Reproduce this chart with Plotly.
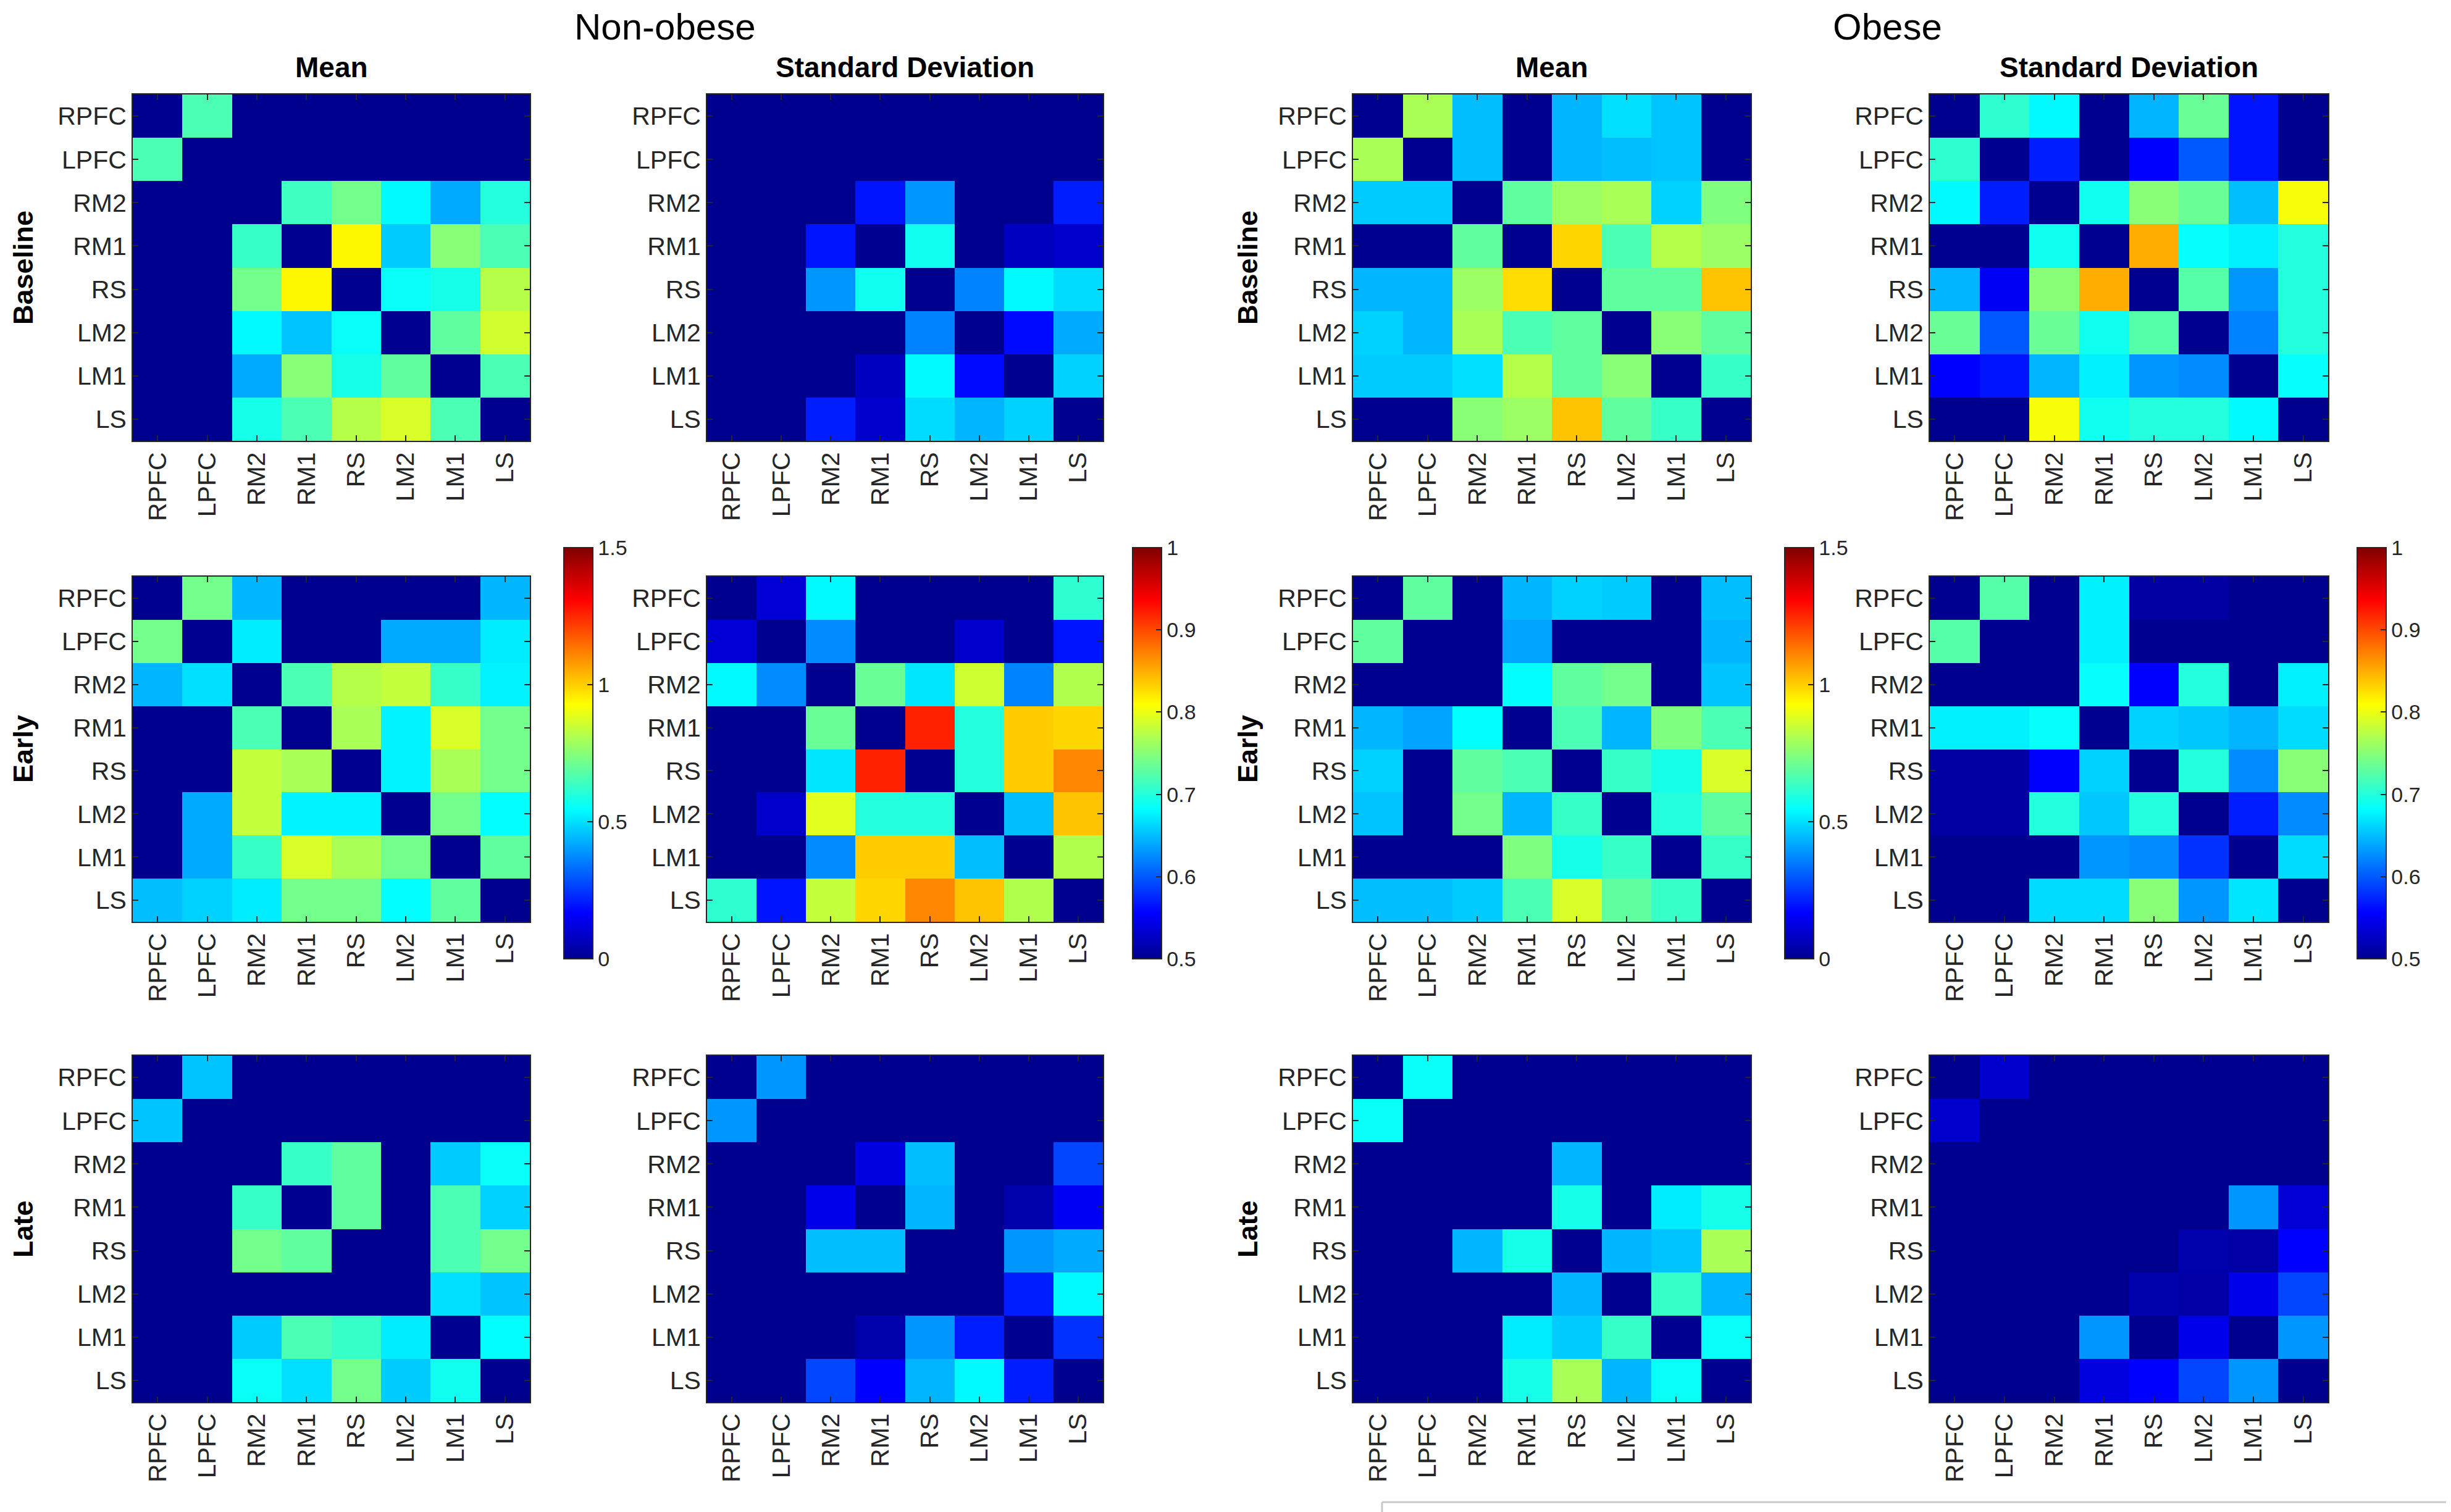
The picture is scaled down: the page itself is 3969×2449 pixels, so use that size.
import plotly.graph_objects as go

# region labels, same order on both axes
labels = ['RPFC', 'LPFC', 'RM2', 'RM1', 'RS', 'LM2', 'LM1', 'LS']

# ---- Non-obese ----
nonobese_base_mean = [
    [0, 0.66, 0, 0, 0, 0, 0, 0],
    [0.66, 0, 0, 0, 0, 0, 0, 0],
    [0, 0, 0, 0.64, 0.72, 0.54, 0.42, 0.60],
    [0, 0, 0.63, 0, 0.94, 0.47, 0.75, 0.66],
    [0, 0, 0.72, 0.94, 0, 0.56, 0.58, 0.82],
    [0, 0, 0.54, 0.46, 0.56, 0, 0.69, 0.86],
    [0, 0, 0.42, 0.75, 0.58, 0.69, 0, 0.66],
    [0, 0, 0.58, 0.66, 0.82, 0.87, 0.66, 0],
]
nonobese_base_sd = [
    [0, 0, 0, 0, 0, 0, 0, 0],
    [0, 0, 0, 0, 0, 0, 0, 0],
    [0, 0, 0, 0.565, 0.63, 0, 0, 0.57],
    [0, 0, 0.565, 0, 0.69, 0, 0.525, 0.53],
    [0, 0, 0.63, 0.69, 0, 0.62, 0.68, 0.665],
    [0, 0, 0, 0, 0.62, 0, 0.56, 0.64],
    [0, 0, 0, 0.525, 0.68, 0.56, 0, 0.66],
    [0, 0, 0.57, 0.53, 0.665, 0.645, 0.66, 0],
]
nonobese_early_mean = [
    [0, 0.72, 0.44, 0, 0, 0, 0, 0.44],
    [0.72, 0, 0.52, 0, 0, 0.42, 0.42, 0.52],
    [0.44, 0.50, 0, 0.66, 0.82, 0.84, 0.63, 0.53],
    [0, 0, 0.66, 0, 0.80, 0.53, 0.87, 0.72],
    [0, 0, 0.84, 0.80, 0, 0.53, 0.80, 0.72],
    [0, 0.42, 0.84, 0.53, 0.53, 0, 0.72, 0.55],
    [0, 0.42, 0.63, 0.87, 0.80, 0.72, 0, 0.69],
    [0.45, 0.48, 0.52, 0.72, 0.72, 0.55, 0.69, 0],
]
nonobese_early_sd = [
    [0, 0.535, 0.68, 0, 0, 0, 0, 0.705],
    [0.535, 0, 0.625, 0, 0, 0.53, 0, 0.565],
    [0.68, 0.625, 0, 0.735, 0.67, 0.785, 0.62, 0.77],
    [0, 0, 0.735, 0, 0.92, 0.70, 0.835, 0.83],
    [0, 0, 0.67, 0.92, 0, 0.70, 0.835, 0.87],
    [0, 0.53, 0.795, 0.70, 0.70, 0, 0.65, 0.84],
    [0, 0, 0.625, 0.835, 0.835, 0.65, 0, 0.77],
    [0.705, 0.565, 0.78, 0.83, 0.87, 0.84, 0.77, 0],
]
nonobese_late_mean = [
    [0, 0.46, 0, 0, 0, 0, 0, 0],
    [0.46, 0, 0, 0, 0, 0, 0, 0],
    [0, 0, 0, 0.63, 0.69, 0, 0.47, 0.56],
    [0, 0, 0.63, 0, 0.69, 0, 0.66, 0.48],
    [0, 0, 0.72, 0.69, 0, 0, 0.66, 0.72],
    [0, 0, 0, 0, 0, 0, 0.50, 0.46],
    [0, 0, 0.47, 0.66, 0.63, 0.52, 0, 0.55],
    [0, 0, 0.56, 0.50, 0.72, 0.47, 0.57, 0],
]
nonobese_late_sd = [
    [0, 0.63, 0, 0, 0, 0, 0, 0],
    [0.63, 0, 0, 0, 0, 0, 0, 0],
    [0, 0, 0, 0.54, 0.65, 0, 0, 0.59],
    [0, 0, 0.545, 0, 0.645, 0, 0.515, 0.55],
    [0, 0, 0.65, 0.65, 0, 0, 0.63, 0.64],
    [0, 0, 0, 0, 0, 0, 0.57, 0.68],
    [0, 0, 0, 0.515, 0.63, 0.57, 0, 0.58],
    [0, 0, 0.59, 0.555, 0.645, 0.68, 0.57, 0],
]

# ---- Obese ----
obese_base_mean = [
    [0, 0.80, 0.45, 0, 0.44, 0.50, 0.46, 0],
    [0.80, 0, 0.45, 0, 0.44, 0.45, 0.46, 0],
    [0.47, 0.47, 0, 0.69, 0.78, 0.80, 0.48, 0.74],
    [0, 0, 0.69, 0, 0.99, 0.66, 0.82, 0.78],
    [0.44, 0.44, 0.78, 0.98, 0, 0.69, 0.69, 1.02],
    [0.48, 0.44, 0.80, 0.66, 0.69, 0, 0.75, 0.69],
    [0.47, 0.47, 0.50, 0.82, 0.69, 0.75, 0, 0.63],
    [0, 0, 0.75, 0.78, 1.02, 0.69, 0.63, 0],
]
obese_base_sd = [
    [0, 0.705, 0.68, 0, 0.645, 0.735, 0.565, 0],
    [0.705, 0, 0.57, 0, 0.555, 0.60, 0.565, 0],
    [0.68, 0.57, 0, 0.69, 0.75, 0.735, 0.65, 0.805],
    [0, 0, 0.69, 0, 0.85, 0.685, 0.675, 0.70],
    [0.645, 0.55, 0.75, 0.85, 0, 0.725, 0.63, 0.70],
    [0.735, 0.60, 0.735, 0.69, 0.725, 0, 0.62, 0.70],
    [0.555, 0.565, 0.645, 0.675, 0.63, 0.625, 0, 0.685],
    [0, 0, 0.805, 0.69, 0.70, 0.70, 0.68, 0],
]
obese_early_mean = [
    [0, 0.69, 0, 0.44, 0.48, 0.47, 0, 0.45],
    [0.69, 0, 0, 0.41, 0, 0, 0, 0.44],
    [0, 0, 0, 0.55, 0.69, 0.72, 0, 0.46],
    [0.44, 0.41, 0.55, 0, 0.66, 0.44, 0.74, 0.66],
    [0.48, 0, 0.69, 0.66, 0, 0.63, 0.58, 0.87],
    [0.46, 0, 0.72, 0.44, 0.63, 0, 0.60, 0.69],
    [0, 0, 0, 0.74, 0.58, 0.63, 0, 0.63],
    [0.45, 0.45, 0.47, 0.66, 0.87, 0.69, 0.63, 0],
]
obese_early_sd = [
    [0, 0.725, 0, 0.675, 0.51, 0.51, 0, 0],
    [0.725, 0, 0, 0.675, 0, 0, 0, 0],
    [0, 0, 0, 0.685, 0.555, 0.70, 0, 0.675],
    [0.675, 0.675, 0.685, 0, 0.66, 0.655, 0.645, 0.665],
    [0.51, 0.51, 0.555, 0.66, 0, 0.70, 0.625, 0.75],
    [0.51, 0.51, 0.70, 0.655, 0.70, 0, 0.57, 0.625],
    [0, 0, 0, 0.63, 0.625, 0.58, 0, 0.665],
    [0, 0, 0.665, 0.665, 0.75, 0.63, 0.67, 0],
]
obese_late_mean = [
    [0, 0.56, 0, 0, 0, 0, 0, 0],
    [0.56, 0, 0, 0, 0, 0, 0, 0],
    [0, 0, 0, 0, 0.44, 0, 0, 0],
    [0, 0, 0, 0, 0.58, 0, 0.52, 0.58],
    [0, 0, 0.44, 0.58, 0, 0.44, 0.46, 0.80],
    [0, 0, 0, 0, 0.44, 0, 0.63, 0.44],
    [0, 0, 0, 0.52, 0.47, 0.63, 0, 0.56],
    [0, 0, 0, 0.58, 0.80, 0.44, 0.56, 0],
]
obese_late_sd = [
    [0, 0.53, 0, 0, 0, 0, 0, 0],
    [0.53, 0, 0, 0, 0, 0, 0, 0],
    [0, 0, 0, 0, 0, 0, 0, 0],
    [0, 0, 0, 0, 0, 0, 0.63, 0.535],
    [0, 0, 0, 0, 0, 0.515, 0.512, 0.555],
    [0, 0, 0, 0, 0.515, 0.512, 0.545, 0.59],
    [0, 0, 0, 0.63, 0, 0.545, 0, 0.63],
    [0, 0, 0, 0.54, 0.555, 0.59, 0.63, 0],
]

row_names = ['Baseline', 'Early', 'Late']
col_titles = ['Mean', 'Standard Deviation', 'Mean', 'Standard Deviation']
mean_ticks = [0, 0.5, 1, 1.5]
sd_ticks = [0.5, 0.6, 0.7, 0.8, 0.9, 1]

grid = [
    [nonobese_base_mean, nonobese_base_sd, obese_base_mean, obese_base_sd],
    [nonobese_early_mean, nonobese_early_sd, obese_early_mean, obese_early_sd],
    [nonobese_late_mean, nonobese_late_sd, obese_late_mean, obese_late_sd],
]

W, H = 3969, 2449
FONT = 'Liberation Sans, Arial, Helvetica, sans-serif'
INK = '#262626'

# matlab style jet
jet = [[0, 'rgb(0,0,143)'], [0.111, 'rgb(0,0,255)'], [0.365, 'rgb(0,255,255)'],
       [0.619, 'rgb(255,255,0)'], [0.873, 'rgb(255,0,0)'], [1, 'rgb(128,0,0)']]

# panel boxes in pixels (left, right) / (top, bottom)
col_px = [(207, 850), (1137, 1778), (2183, 2827), (3117, 3762)]
row_px = [(145, 706), (926, 1485), (1702, 2263)]
cbar_left = [905, 1826, 2882, 3809]
rowlab_left = [2, 1985]

def fx(px):
    return px / W

def fy(px):
    return 1 - px / H

fig = go.Figure()
layout = dict(width=W, height=H, margin=dict(l=0, r=0, t=0, b=0),
              paper_bgcolor='white', plot_bgcolor='white',
              font=dict(family=FONT, color=INK), showlegend=False)

for r in range(3):
    for c in range(4):
        k = r * 4 + c + 1
        sfx = '' if k == 1 else str(k)
        fig.add_trace(go.Heatmap(
            z=grid[r][c], x=labels, y=labels,
            coloraxis='coloraxis' + ('' if c == 0 else str(c + 1)),
            xaxis='x' + sfx, yaxis='y' + sfx,
        ))
        axstyle = dict(showline=True, linecolor=INK, linewidth=2, mirror='ticks',
                       ticks='inside', ticklen=9, tickwidth=2, tickcolor=INK,
                       showgrid=False, zeroline=False, fixedrange=True,
                       tickfont=dict(size=41, family=FONT, color=INK))
        layout['xaxis' + sfx] = dict(axstyle, domain=[fx(col_px[c][0]), fx(col_px[c][1])],
                                     anchor='y' + sfx, tickangle=-90)
        layout['yaxis' + sfx] = dict(axstyle, domain=[fy(row_px[r][1]), fy(row_px[r][0])],
                                     anchor='x' + sfx, autorange='reversed')

# one colorbar per column, drawn next to the middle row
for c in range(4):
    ticks = mean_ticks if c % 2 == 0 else sd_ticks
    name = 'coloraxis' + ('' if c == 0 else str(c + 1))
    layout[name] = dict(
        colorscale=jet, cmin=ticks[0], cmax=ticks[-1],
        colorbar=dict(x=fx(cbar_left[c]), xanchor='left', xpad=0, ypad=0,
                      y=fy(1212), yanchor='middle', len=666, lenmode='pixels',
                      thickness=47, thicknessmode='pixels',
                      outlinewidth=2, outlinecolor=INK,
                      ticks='inside', ticklen=10, tickwidth=2, tickcolor=INK,
                      tickvals=ticks, ticktext=[f'{t:g}' for t in ticks],
                      tickfont=dict(size=34, family=FONT, color=INK)),
    )

ann = []
ann.append(dict(text='Non-obese', x=fx(1069), y=1, yanchor='top', font=dict(size=60)))
ann.append(dict(text='Obese', x=fx(3048), y=1, yanchor='top', font=dict(size=60)))
for c in range(4):
    ann.append(dict(text='<b>' + col_titles[c] + '</b>', x=fx(sum(col_px[c]) / 2),
                    y=fy(101), font=dict(size=46)))
for r in range(3):
    yc = fy(sum(row_px[r]) / 2)
    for xl in rowlab_left:
        ann.append(dict(text='<b>' + row_names[r] + '</b>', x=fx(xl), y=yc,
                        xanchor='left', textangle=-90, font=dict(size=45)))
for a in ann:
    a.setdefault('yanchor', 'middle')
    a.setdefault('xanchor', 'center')
    a.update(xref='paper', yref='paper', showarrow=False)
    a['font'].update(family=FONT, color='black')
layout['annotations'] = ann

# thin grey frame corner at the bottom right of the page
layout['shapes'] = [
    dict(type='line', xref='paper', yref='paper', x0=fx(2230), x1=1,
         y0=fy(2425), y1=fy(2425), line=dict(color='#c8c8c8', width=3)),
    dict(type='line', xref='paper', yref='paper', x0=fx(2230), x1=fx(2230),
         y0=fy(2425), y1=0, line=dict(color='#c8c8c8', width=3)),
]

fig.update_layout(layout)
fig.write_html('out.html')
